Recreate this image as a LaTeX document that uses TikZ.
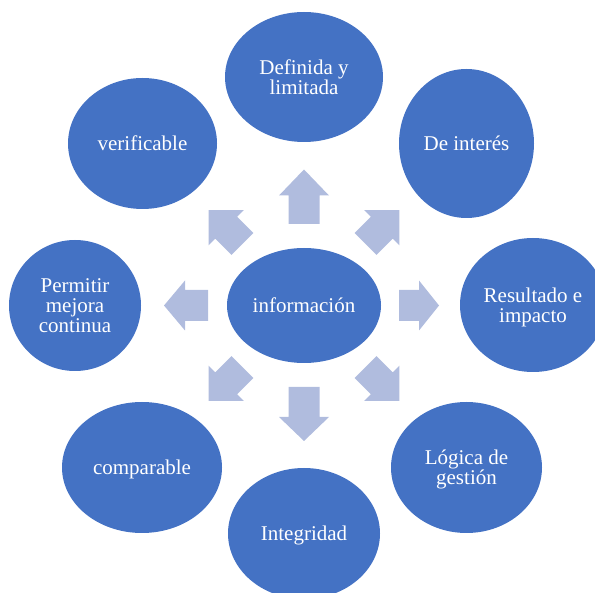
\documentclass[tikz,border=0pt]{standalone}
\usepackage{fontspec}
\setmainfont{Liberation Serif}
\usepackage{tikz}
\usetikzlibrary{shapes.geometric}
\definecolor{bubbleblue}{RGB}{68,114,196}
\definecolor{arrowblue}{RGB}{176,188,222}

% block arrow leaving the centre: angle, start, tip, head length
\newcommand{\infoarrow}[4]{%
  \fill[arrowblue, shift={(info.center)}, rotate=#1]
    (#2,-15.5) -- ({#3-#4},-15.5) -- ({#3-#4},-25) -- (#3,0)
    -- ({#3-#4},25) -- ({#3-#4},15.5) -- (#2,15.5) -- cycle;}

\begin{document}
\begin{tikzpicture}[x=1pt,y=-1pt,
    bubble/.style={ellipse, fill=bubbleblue, text=white, align=center,
      inner sep=0pt, text depth=0pt, font=\fontsize{21}{20}\selectfont}]
  \useasboundingbox (0,0) rectangle (595,593);
  \clip (0,0) rectangle (595,593);

  \node[bubble, minimum width=154pt, minimum height=115pt] (info) at (304,305.5) {información};

  \node[bubble, minimum width=158pt, minimum height=130pt] (def) at (304,77) {Definida y\\limitada};
  \node[bubble, minimum width=135pt, minimum height=149pt] (interes) at (466.5,143.5) {De interés};
  \node[bubble, minimum width=146pt, minimum height=134pt] (result) at (533,305) {Resultado e\\impacto};
  \node[bubble, minimum width=151pt, minimum height=131pt] (logica) at (466.5,467.5) {Lógica de\\gestión};
  \node[bubble, minimum width=152pt, minimum height=131pt] (integ) at (304,533.5) {Integridad};
  \node[bubble, minimum width=160pt, minimum height=131pt] (compar) at (142,467.5) {comparable};
  \node[bubble, minimum width=132pt, minimum height=131pt] (mejora) at (75,305.5) {Permitir\\mejora\\continua};
  \node[bubble, minimum width=149pt, minimum height=131pt] (verif) at (142.5,143.5) {verificable};

  \infoarrow{90}{81.5}{136}{26}
  \infoarrow{45}{87}{135}{25}
  \infoarrow{0}{95}{135}{20}
  \infoarrow{-45}{87}{135}{25}
  \infoarrow{-90}{81.5}{135.5}{24}
  \infoarrow{-135}{87}{135}{25}
  \infoarrow{180}{96}{140}{21}
  \infoarrow{135}{87}{135}{25}
\end{tikzpicture}
\end{document}
